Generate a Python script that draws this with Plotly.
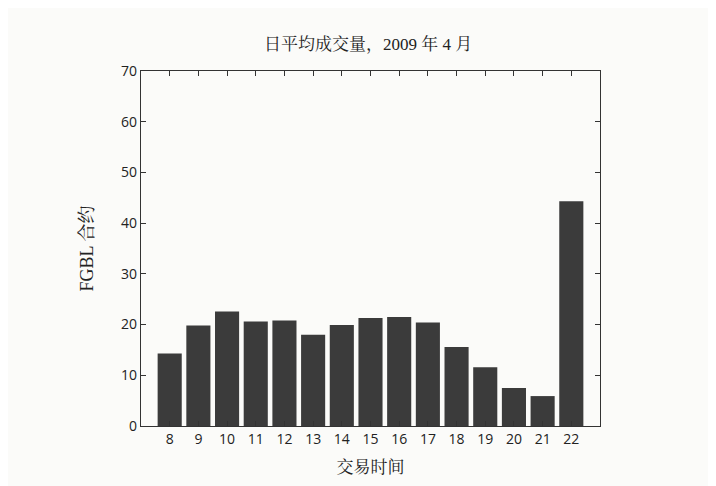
import plotly.graph_objects as go

horas = [8, 9, 10, 11, 12, 13, 14, 15, 16, 17, 18, 19, 20, 21, 22]
contratos = [14.3, 19.8, 22.6, 20.6, 20.8, 18.0, 19.9, 21.3, 21.5, 20.4, 15.6, 11.6, 7.5, 5.9, 44.3]

fonte_cjk = "Liberation Serif, Noto Serif CJK SC, Noto Sans CJK SC"
fonte_num = "Open Sans, DejaVu Sans, sans-serif"

fig = go.Figure()
fig.add_trace(
    go.Bar(
        x=horas,
        y=contratos,
        width=0.84,
        marker=dict(color='#3b3b3b', line=dict(width=0)),
        name='FGBL'
    ))

# a pagina tem 8px de margem no body, por isso as margens compensam
fig.update_layout(
    width=716,
    height=486,
    margin=dict(l=133, r=124, t=63, b=68),
    paper_bgcolor='#fbfbf9',
    plot_bgcolor='#fbfbf9',
    showlegend=False,
    title=dict(
        text='日平均成交量，2009 年 4 月',
        x=0.503, xanchor='center',
        y=0.925, yanchor='middle',
        font=dict(family=fonte_cjk, size=17, color='#222222')
    ),
)

fig.update_xaxes(
    range=[7, 23],
    tickmode='array',
    tickvals=horas,
    ticktext=[str(h) for h in horas],
    ticks='inside',
    ticklen=5,
    tickcolor='#333333',
    showline=True,
    linecolor='#333333',
    linewidth=1.2,
    mirror='ticks',
    showgrid=False,
    zeroline=False,
    tickfont=dict(family=fonte_num, size=14, color='#222222'),
    title=dict(text='交易时间', standoff=14,
               font=dict(family=fonte_cjk, size=17, color='#222222')),
)

fig.update_yaxes(
    range=[0, 70],
    tickvals=[0, 10, 20, 30, 40, 50, 60, 70],
    ticks='inside',
    ticklen=5,
    tickcolor='#333333',
    showline=True,
    linecolor='#333333',
    linewidth=1.2,
    mirror='ticks',
    showgrid=False,
    zeroline=False,
    tickfont=dict(family=fonte_num, size=14, color='#222222'),
    title=dict(text='FGBL 合约', standoff=22,
               font=dict(family=fonte_cjk, size=18, color='#222222')),
)

fig.write_html("out.html")
